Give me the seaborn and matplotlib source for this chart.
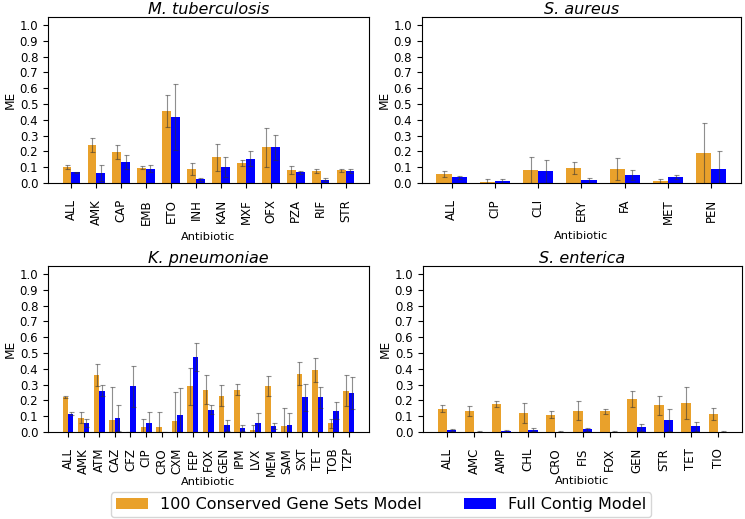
import matplotlib
matplotlib.use("Agg")
import matplotlib.pyplot as plt
import seaborn as sns
import pandas as pd
import numpy as np
from matplotlib.patches import Patch

plt.rcParams['font.family'] = ['DejaVu Sans']

ORANGE = "#E9A12B"
BLUE = "#0000FF"
MODELS = ["100 Conserved Gene Sets Model", "Full Contig Model"]

# ---- M. tuberculosis ----
mtb_abx = ["ALL", "AMK", "CAP", "EMB", "ETO", "INH", "KAN", "MXF", "OFX", "PZA", "RIF", "STR"]
mtb_cons = [0.101, 0.242, 0.196, 0.097, 0.457, 0.090, 0.162, 0.128, 0.227, 0.084, 0.074, 0.080]
mtb_cons_err = [0.012, 0.045, 0.042, 0.011, 0.100, 0.037, 0.086, 0.019, 0.123, 0.024, 0.013, 0.011]
mtb_full = [0.067, 0.065, 0.135, 0.090, 0.417, 0.023, 0.099, 0.154, 0.225, 0.069, 0.021, 0.078]
mtb_full_err = [0.004, 0.051, 0.044, 0.023, 0.208, 0.009, 0.064, 0.049, 0.080, 0.010, 0.011, 0.012]

# ---- S. aureus ----
sa_abx = ["ALL", "CIP", "CLI", "ERY", "FA", "MET", "PEN"]
sa_cons = [0.055, 0.004, 0.082, 0.095, 0.090, 0.015, 0.187]
sa_cons_err = [0.019, 0.021, 0.085, 0.040, 0.070, 0.012, 0.193]
sa_full = [0.036, 0.011, 0.074, 0.017, 0.053, 0.038, 0.090]
sa_full_err = [0.008, 0.013, 0.074, 0.015, 0.031, 0.014, 0.110]

# ---- K. pneumoniae ----
kp_abx = ["ALL", "AMK", "ATM", "CAZ", "CFZ", "CIP", "CRO", "CXM", "FEP", "FOX",
          "GEN", "IPM", "LVX", "MEM", "SAM", "SXT", "TET", "TOB", "TZP"]
kp_cons = [0.219, 0.091, 0.363, 0.074, 0.000, 0.030, 0.034, 0.067, 0.289, 0.268,
           0.230, 0.268, 0.015, 0.291, 0.038, 0.369, 0.392, 0.055, 0.262]
kp_cons_err = [0.006, 0.036, 0.069, 0.211, 0.000, 0.053, 0.093, 0.186, 0.116, 0.092,
               0.067, 0.034, 0.030, 0.062, 0.114, 0.073, 0.076, 0.030, 0.098]
kp_full = [0.116, 0.057, 0.262, 0.089, 0.289, 0.059, 0.000, 0.110, 0.472, 0.141,
           0.042, 0.027, 0.057, 0.040, 0.044, 0.219, 0.219, 0.135, 0.247]
kp_full_err = [0.011, 0.028, 0.036, 0.081, 0.128, 0.068, 0.000, 0.170, 0.088, 0.029,
               0.036, 0.018, 0.066, 0.018, 0.076, 0.083, 0.066, 0.055, 0.101]

# ---- S. enterica ----
se_abx = ["ALL", "AMC", "AMP", "CHL", "CRO", "FIS", "FOX", "GEN", "STR", "TET", "TIO"]
se_cons = [0.148, 0.133, 0.177, 0.122, 0.110, 0.135, 0.131, 0.209, 0.169, 0.184, 0.114]
se_cons_err = [0.020, 0.032, 0.019, 0.063, 0.023, 0.062, 0.014, 0.051, 0.059, 0.101, 0.039]
se_full = [0.013, 0.002, 0.004, 0.015, 0.002, 0.017, 0.003, 0.030, 0.078, 0.036, 0.002]
se_full_err = [0.006, 0.002, 0.006, 0.010, 0.002, 0.010, 0.005, 0.021, 0.069, 0.027, 0.002]

panels = [
    ("M. tuberculosis", mtb_abx, mtb_cons, mtb_cons_err, mtb_full, mtb_full_err, [0.0644, 0.6474, 0.4309, 0.3198], 5.0),
    ("S. aureus", sa_abx, sa_cons, sa_cons_err, sa_full, sa_full_err, [0.5664, 0.6474, 0.4282, 0.3198], 5.0),
    ("K. pneumoniae", kp_abx, kp_cons, kp_cons_err, kp_full, kp_full_err, [0.0644, 0.1676, 0.4309, 0.3199], 1.0),
    ("S. enterica", se_abx, se_cons, se_cons_err, se_full, se_full_err, [0.5678, 0.1676, 0.4282, 0.3199], 1.0),
]

fig = plt.figure(figsize=(7.45, 5.19), dpi=100)

for title, abx, cons, cons_err, full, full_err, pos, lpad in panels:
    ax = fig.add_axes(pos)
    df = pd.DataFrame({
        "Antibiotic": abx * 2,
        "ME": cons + full,
        "Model": [MODELS[0]] * len(abx) + [MODELS[1]] * len(abx),
    })
    sns.barplot(data=df, x="Antibiotic", y="ME", hue="Model", hue_order=MODELS,
                order=abx, palette=[ORANGE, BLUE], saturation=1, width=0.7, gap=0,
                errorbar=None, legend=False, ax=ax, linewidth=0)
    for container, errs in zip(ax.containers, [cons_err, full_err]):
        xs = [b.get_x() + b.get_width() / 2 for b in container]
        hs = [b.get_height() for b in container]
        ax.errorbar(xs, hs, yerr=errs, fmt="none", ecolor="#333333", alpha=0.55,
                    elinewidth=0.8, capsize=1.8, capthick=0.8)
    n = len(abx)
    span = (n - 1) + 0.7
    ax.set_xlim(-0.35 - 0.05 * span, n - 1 + 0.35 + 0.05 * span)
    ax.set_ylim(0, 1.05)
    ticks = np.arange(0, 1.01, 0.1)
    ax.set_yticks(ticks)
    ax.set_yticklabels([f"{v:.1f}" for v in ticks], fontsize=8.5)
    ax.tick_params(axis="x", labelrotation=90, labelsize=8.5, pad=8)
    ax.set_title(title, fontstyle="italic", fontsize=11.5, pad=1)
    ax.set_xlabel("Antibiotic", fontsize=8.2, labelpad=lpad)
    ax.set_ylabel("ME", fontsize=8.7, labelpad=2)

handles = [Patch(facecolor=ORANGE), Patch(facecolor=BLUE)]
fig.legend(handles, MODELS, loc="lower center", ncol=2, bbox_to_anchor=(0.5115, 0.004),
           fontsize=11.5, frameon=True, handlelength=2.0, columnspacing=2.6,
           borderpad=0.3, borderaxespad=0.0)

fig.savefig("out.png", dpi=100)
